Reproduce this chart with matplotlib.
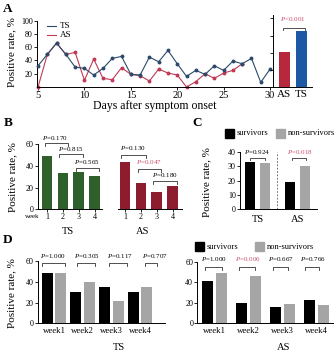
import matplotlib
matplotlib.use('Agg')
import matplotlib.pyplot as plt
from matplotlib.patches import Rectangle
from matplotlib.lines import Line2D

# ---- data ----
days = list(range(5, 31))
ts_rate = [32, 49, 66, 49, 30, 28, 18, 28, 43, 46, 19, 18, 45, 38, 55, 35, 16, 25, 19, 32, 25, 39, 35, 43, 7, 27]
as_days = list(range(5, 28))
as_rate = [0, 49, 66, 49, 52, 10, 42, 13, 11, 29, 19, 17, 9, 27, 21, 18, 0, 8, 20, 13, 21, 25, 35]

total_groups = ['AS', 'TS']
total_rate = [20.2, 32.4]

weeks = ['1', '2', '3', '4']
week_ts = [49.5, 33.2, 34.2, 31.0]
week_as = [43.4, 24.0, 16.2, 21.2]

c_groups = ['TS', 'AS']
c_surv = [33.3, 19.3]
c_non = [32.6, 30.5]

d_weeks = ['week1', 'week2', 'week3', 'week4']
d_ts_surv = [48.7, 30.4, 35.2, 30.1]
d_ts_non = [48.7, 40.0, 21.7, 34.6]
d_as_surv = [41.3, 19.1, 15.2, 22.5]
d_as_non = [49.5, 46.0, 18.8, 17.5]

p_b = ['0.170', '0.815', '0.565', '0.130', '0.047', '0.180']
p_c = ['0.924', '0.018']
p_d_ts = ['1.000', '0.305', '0.117', '0.707']
p_d_as = ['1.000', '0.006', '0.667', '0.766']

# ---- style ----
plt.rcParams['font.family'] = ['Liberation Serif', 'DejaVu Serif']
plt.rcParams['mathtext.fontset'] = 'custom'
plt.rcParams['mathtext.it'] = 'Liberation Serif:italic'
plt.rcParams['mathtext.rm'] = 'Liberation Serif'

TS_LINE = '#2c4a6b'
AS_LINE = '#c03a55'
GREEN = '#2f5f2b'
MAROON = '#8c1c2e'
GREY = '#a5a5a5'
PRED = '#c8506a'

W, H = 336, 352
fig = plt.figure(figsize=(W / 100, H / 100), dpi=100)


def box(x0, ytop, x1, ybot):
    return fig.add_axes([x0 / W, 1 - ybot / H, (x1 - x0) / W, (ybot - ytop) / H])


def ftext(x, y, s, **kw):
    fig.text(x / W, 1 - y / H, s, ha=kw.pop('ha', 'center'), va=kw.pop('va', 'center'), **kw)


def style(ax):
    for s in ['top', 'right']:
        ax.spines[s].set_visible(False)
    for s in ['left', 'bottom']:
        ax.spines[s].set_linewidth(0.7)
    ax.tick_params(length=2, width=0.6, labelsize=5.8, pad=1)


def bracket(ax, x1, x2, y, tip, p, tx, ty, color='black'):
    ax.plot([x1, x1, x2, x2], [y - tip, y, y, y - tip], color='#333333', lw=0.6, clip_on=False)
    ax.text(tx, ty, r'$P$=' + p, ha='center', va='center', fontsize=5, color=color, clip_on=False)


def legend_sq(x, y, color, label):
    fig.add_artist(Rectangle(((x) / W, 1 - (y + 4.5) / H), 9 / W, 9 / H, color=color, transform=fig.transFigure))
    ftext(x + 12, y, label, ha='left', fontsize=6)


# ---- A ----
axA = box(37, 20.5, 272, 87)
style(axA)
axA.plot(days, ts_rate, color=TS_LINE, lw=0.8, marker='o', ms=1.8, clip_on=False, zorder=3)
axA.plot(as_days, as_rate, color=AS_LINE, lw=0.8, marker='o', ms=1.8, clip_on=False, zorder=2)
axA.set_xlim(4.89, 30.21)
axA.set_ylim(0, 100)
axA.set_xticks([5, 10, 15, 20, 25, 30])
axA.set_yticks([20, 40, 60, 80, 100])
axA.tick_params(axis='x', labelsize=7.5)
fig.add_artist(Line2D([47 / W, 56 / W], [1 - 25.5 / H] * 2, color=TS_LINE, lw=0.8))
fig.add_artist(Line2D([47 / W, 56 / W], [1 - 35 / H] * 2, color=AS_LINE, lw=0.8))
ftext(60, 25.5, 'TS', ha='left', fontsize=6.5)
ftext(60, 35, 'AS', ha='left', fontsize=6.5)
ftext(155, 106, 'Days after symptom onset', fontsize=8.5)

axI = box(272.7, 15, 312, 87)
style(axI)
axI.bar([0, 1], total_rate, width=0.66, color=['#b8283c', '#1c58a4'])
axI.set_xlim(-0.7, 1.65)
axI.set_ylim(0, 42)
axI.set_yticks([10, 20, 30, 40])
axI.set_yticklabels([])
axI.set_xticks([0, 1])
axI.set_xticklabels(total_groups, fontsize=8)
axI.tick_params(axis='x', length=0, pad=2.5)
axI.plot([-0.08, -0.08, 1.23, 1.23], [33.5, 34.7, 34.7, 33.5], color='#333333', lw=0.6)
axI.text(0.53, 39.4, r'$P$<0.001', ha='center', va='center', fontsize=5, color=PRED, clip_on=False)

# ---- B ----
axB = box(37.7, 144.3, 181.7, 209.3)
style(axB)
pos_ts = [1, 2, 3, 4]
pos_as = [5.9, 6.9, 7.9, 8.9]
axB.bar(pos_ts, week_ts, width=0.67, color=GREEN)
axB.bar(pos_as, week_as, width=0.67, color=MAROON)
axB.set_xlim(0.415, 9.47)
axB.set_ylim(0, 60)
axB.set_yticks([0, 20, 40, 60])
axB.set_xticks(pos_ts + pos_as)
axB.set_xticklabels(weeks + weeks)
axB.spines['bottom'].set_visible(False)
axB.plot([0.415, 4.44], [0, 0], color='black', lw=0.7, clip_on=False)
axB.plot([5.465, 9.47], [0, 0], color='black', lw=0.7, clip_on=False)
bracket(axB, 0.87, 2.30, 60.9, 2.5, p_b[0], 1.50, 65.6)
bracket(axB, 1.755, 3.26, 50.8, 2.5, p_b[1], 2.51, 55.5)
bracket(axB, 2.82, 4.27, 37.9, 2.5, p_b[2], 3.52, 43.4)
bracket(axB, 5.64, 7.21, 50.1, 2.5, p_b[3], 6.41, 56.3)
bracket(axB, 6.70, 8.17, 37.2, 2.5, p_b[4], 7.42, 44.0, PRED)
bracket(axB, 7.67, 9.16, 26.1, 2.5, p_b[5], 8.42, 31.7)
ftext(32.5, 216.5, 'week', fontsize=5)
ftext(68, 231.5, 'TS', fontsize=7.5)
ftext(143, 231.5, 'AS', fontsize=7.5)

# ---- C ----
axC = box(240, 152, 316.7, 209.3)
style(axC)
axC.bar([0, 2.667], c_surv, width=0.667, color='black')
axC.bar([1, 3.667], c_non, width=0.667, color=GREY)
axC.axvline(1.82, ls=(0, (2, 2)), lw=0.6, color='#555555')
axC.set_xlim(-0.667, 4.45)
axC.set_ylim(0, 40)
axC.set_yticks([0, 10, 20, 30, 40])
axC.set_xticks([0.5, 3.17])
axC.set_xticklabels(c_groups, fontsize=7.5)
axC.tick_params(axis='x', length=0, pad=4)
bracket(axC, 0, 1, 35.9, 1.8, p_c[0], 0.47, 40.0)
bracket(axC, 2.8, 3.73, 35.9, 1.8, p_c[1], 3.33, 40.0, PRED)
legend_sq(225, 133, 'black', 'survivors')
legend_sq(276, 133, GREY, 'non-survivors')

# ---- D ----
g = [0, 1, 2, 3]
axD1 = box(37.7, 260.9, 165, 323.3)
style(axD1)
axD1.bar([x - 0.24 for x in g], d_ts_surv, width=0.38, color='black')
axD1.bar([x + 0.24 for x in g], d_ts_non, width=0.38, color=GREY)
axD1.set_xlim(-0.57, 3.87)
axD1.set_ylim(0, 60)
axD1.set_yticks([0, 20, 40, 60])
axD1.set_xticks(g)
axD1.set_xticklabels(d_weeks, fontsize=6.3)
axD1.tick_params(axis='x', length=0, pad=3)
for (a, b), p, tx in zip([(-0.43, 0.38), (0.79, 1.43), (1.92, 2.53), (3.17, 3.58)], p_d_ts, [-0.05, 1.15, 2.3, 3.52]):
    bracket(axD1, a, b, 57.7, 3, p, tx, 64.7)
ftext(119, 347, 'TS', fontsize=7.5)

axD2 = box(197.3, 262.1, 333, 322.7)
style(axD2)
axD2.bar([x - 0.206 for x in g], d_as_surv, width=0.32, color='black')
axD2.bar([x + 0.206 for x in g], d_as_non, width=0.32, color=GREY)
axD2.set_xlim(-0.51, 3.48)
axD2.set_ylim(0, 60)
axD2.set_yticks([0, 20, 40, 60])
axD2.set_xticks(g)
axD2.set_xticklabels(d_weeks, fontsize=6.3)
axD2.tick_params(axis='x', length=0, pad=3)
for (a, b), p, tx, c in zip([(-0.28, 0.22), (0.72, 1.19), (1.71, 2.16), (2.66, 3.07)], p_d_as,
                            [-0.02, 0.99, 1.94, 2.89], ['black', PRED, 'black', 'black']):
    bracket(axD2, a, b, 54.7, 3, p, tx, 63, c)
ftext(284, 347, 'AS', fontsize=7.5)
legend_sq(195, 246.7, 'black', 'survivors')
legend_sq(255, 246.7, GREY, 'non-survivors')

# ---- labels ----
for lab, x, y in [('A', 8, 9), ('B', 8, 123), ('C', 197, 123), ('D', 8, 240)]:
    ftext(x, y, lab, fontsize=9.5, fontweight='bold')
for x, y in [(12, 52), (13, 177), (207, 182), (12, 293)]:
    ftext(x, y, 'Positive rate, %', rotation=90, fontsize=8)

fig.savefig('out.png', dpi=100)
